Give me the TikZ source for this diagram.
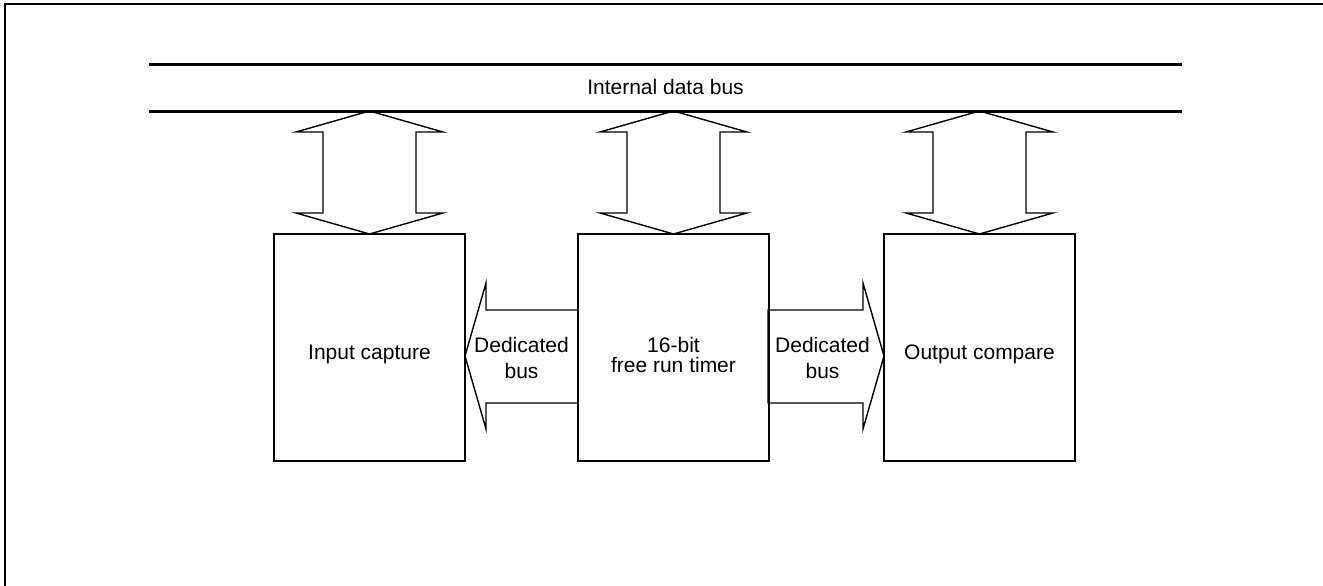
\documentclass[tikz,border=0pt]{standalone}
\usepackage{fontspec}
\setmainfont{Liberation Sans}

\begin{document}
\begin{tikzpicture}[x=1pt,y=-1pt,
  block/.style={draw,line width=2.7pt,outer sep=0pt,inner sep=0pt,
    minimum width=191pt,minimum height=227pt},
  busline/.style={line width=3pt},
  busarrow/.style={line width=1.4pt,line join=miter},
  lbl/.style={font=\fontsize{21}{25.5}\selectfont,align=center,inner sep=0pt},
  tightlbl/.style={font=\fontsize{21}{20}\selectfont,align=center,inner sep=0pt}]
  \useasboundingbox (0,0) rectangle (1323,586);

  \draw[line width=2pt] (5,600) -- (5,4) -- (1330,4) ;   %Draw frame

  %Draw internal data bus
  \draw[busline] (149,65) -- (1182,65) ;
  \draw[busline] (149,111) -- (1182,111) ;
  \node[lbl] (bustxt) at (665.5,87) {Internal data bus};

  %Draw the three blocks
  \node[block] (icap) at (369.5,347.5) {};
  \node[block] (frt)  at (673.5,347.5) {};
  \node[block] (ocmp) at (979.5,347.5) {};
  \node[lbl] (icaptxt) at (369.5,354.5) {Input capture};
  \node[tightlbl] (frttxt) at (673.5,355) {16-bit\\free run timer};
  \node[lbl] (ocmptxt) at (979.5,354.5) {Output compare};

  %Draw bus arrows between data bus and blocks
  \foreach \b in {icap,frt,ocmp}
    \draw[busarrow] (\b.north) -- ++(-73.5,-21) -- ++(27,0) -- ++(0,-81)
      -- ++(-27,0) -- ++(73.5,-21) -- ++(73.5,21) -- ++(-27,0)
      -- ++(0,81) -- ++(27,0) -- cycle ;

  %Draw dedicated bus to input capture
  \draw[busarrow] (icap.east) ++(0,8.5) -- ++(21,-73) -- ++(0,27) -- ++(92,0)
    -- ++(0,93) -- ++(-92,0) -- ++(0,26) -- cycle ;
  \node[lbl] (ldbus) at (521.5,358) {Dedicated\\bus};

  %Draw dedicated bus to output compare
  \draw[busarrow] (ocmp.west) ++(0,8.5) -- ++(-21,-73) -- ++(0,27) -- ++(-95,0)
    -- ++(0,93) -- ++(95,0) -- ++(0,26) -- cycle ;
  \node[lbl] (rdbus) at (822.5,358) {Dedicated\\bus};

\end{tikzpicture}
\end{document}
